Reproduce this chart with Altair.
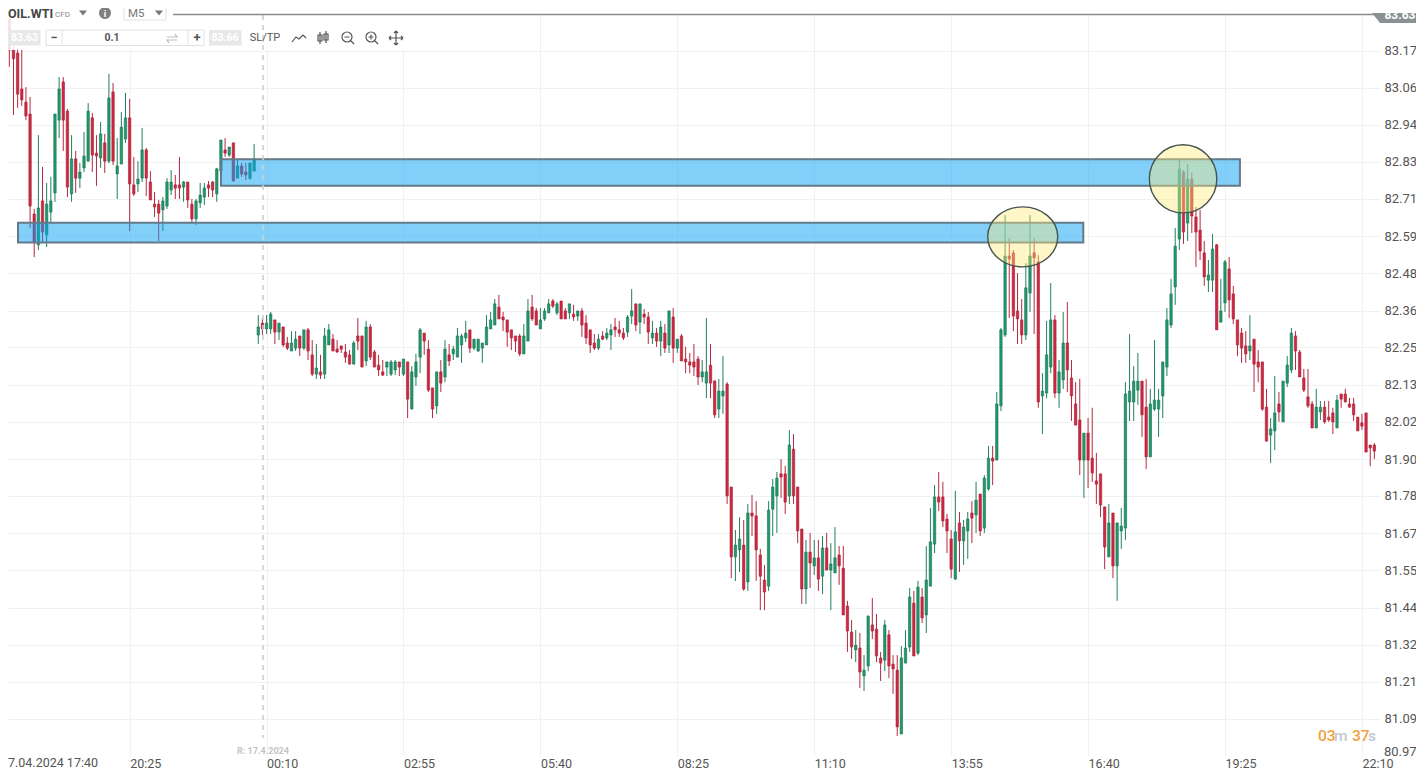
import altair as alt
import pandas as pd

# Candle values (prices), 10 candles a row
highs = [
83.281,83.203,83.178,83.172,83.056,83.025,82.676,82.906,82.807,82.757,
82.776,82.972,83.087,83.087,82.988,82.906,82.857,82.819,82.916,83.006,
82.975,82.906,82.947,82.910,83.097,83.069,82.897,82.978,83.038,83.019,
82.838,82.825,82.928,82.866,82.794,82.729,82.704,82.713,82.772,82.797,
82.782,82.838,82.763,82.760,82.707,82.707,82.757,82.757,82.763,82.763,
82.804,82.891,82.897,82.869,82.882,82.829,82.819,82.819,82.819,82.878,
82.345,82.336,82.345,82.355,82.330,82.320,82.308,82.277,82.295,82.295,
82.280,82.299,82.305,82.267,82.255,82.221,82.305,82.317,82.286,82.267,
82.249,82.255,82.236,82.264,82.336,82.280,82.327,82.317,82.236,82.221,
82.205,82.199,82.205,82.205,82.199,82.208,82.199,82.186,82.224,82.305,
82.289,82.267,82.118,82.168,82.205,82.267,82.255,82.249,82.305,82.286,
82.327,82.299,82.270,82.270,82.258,82.345,82.355,82.395,82.408,82.355,
82.330,82.299,82.280,82.286,82.317,82.395,82.408,82.367,82.367,82.367,
82.395,82.395,82.386,82.389,82.367,82.380,82.377,82.358,82.367,82.345,
82.299,82.286,82.286,82.295,82.305,82.317,82.336,82.327,82.305,82.345,
82.426,82.380,82.380,82.364,82.355,82.327,82.305,82.327,82.317,82.358,
82.367,82.270,82.286,82.246,82.227,82.255,82.217,82.205,82.336,82.255,
82.140,82.146,82.217,82.136,81.809,81.675,81.715,81.706,81.756,81.784,
81.765,81.616,81.566,81.765,81.834,81.856,81.896,81.875,81.987,81.974,
81.809,81.678,81.644,81.666,81.644,81.644,81.656,81.666,81.634,81.684,
81.625,81.625,81.454,81.394,81.363,81.354,81.285,81.407,81.463,81.413,
81.295,81.394,81.363,81.285,81.285,81.313,81.363,81.494,81.485,81.516,
81.494,81.625,81.744,81.815,81.856,81.825,81.725,81.675,81.797,81.731,
81.706,81.731,81.765,81.825,81.787,81.846,81.937,81.937,82.105,82.305,
82.657,82.585,82.548,82.476,82.395,82.507,82.657,82.585,82.532,82.164,
82.327,82.445,82.345,82.205,82.355,82.386,82.205,82.136,82.146,81.977,
82.024,82.056,81.915,81.850,81.747,81.756,81.728,81.697,81.744,82.136,
82.286,82.186,82.227,82.139,82.146,82.115,82.267,82.115,82.199,82.367,
82.458,82.617,82.829,82.797,82.816,82.788,82.682,82.673,82.576,82.517,
82.598,82.567,82.458,82.517,82.526,82.436,82.330,82.305,82.295,82.345,
82.270,82.236,82.199,82.115,82.024,82.155,82.105,82.139,82.217,82.305,
82.295,82.236,82.177,82.177,82.077,82.115,82.077,82.077,82.077,82.056,
82.096,82.099,82.115,82.087,82.087,82.027,82.037,82.040,81.940,81.946,
]
body_tops = [
83.265,83.172,83.162,83.050,83.009,82.972,82.660,82.679,82.701,82.691,
82.701,82.972,83.050,83.072,82.981,82.832,82.832,82.791,82.841,82.981,
82.960,82.850,82.910,82.882,83.022,83.041,82.810,82.931,82.960,82.960,
82.751,82.769,82.860,82.860,82.760,82.691,82.691,82.701,82.760,82.760,
82.751,82.751,82.760,82.760,82.691,82.701,82.719,82.741,82.751,82.760,
82.801,82.891,82.860,82.869,82.882,82.810,82.810,82.791,82.819,82.832,
82.308,82.320,82.320,82.348,82.330,82.320,82.308,82.258,82.258,82.270,
82.280,82.299,82.299,82.221,82.180,82.168,82.280,82.299,82.270,82.239,
82.249,82.230,82.221,82.258,82.280,82.280,82.308,82.308,82.230,82.189,
82.168,82.199,82.199,82.199,82.199,82.208,82.199,82.168,82.199,82.299,
82.289,82.239,82.118,82.168,82.168,82.239,82.221,82.239,82.280,82.280,
82.289,82.299,82.270,82.270,82.258,82.308,82.330,82.380,82.370,82.339,
82.330,82.299,82.280,82.280,82.280,82.358,82.370,82.358,82.330,82.358,
82.380,82.389,82.380,82.389,82.358,82.380,82.348,82.358,82.358,82.320,
82.299,82.258,82.270,82.280,82.289,82.299,82.308,82.299,82.289,82.339,
82.358,82.380,82.380,82.348,82.339,82.289,82.289,82.308,82.289,82.358,
82.339,82.270,82.280,82.208,82.199,82.199,82.208,82.168,82.168,82.189,
82.140,82.108,82.108,82.130,81.809,81.628,81.647,81.628,81.728,81.728,
81.719,81.597,81.519,81.737,81.809,81.837,81.850,81.850,81.940,81.927,
81.809,81.678,81.606,81.606,81.588,81.588,81.619,81.619,81.569,81.588,
81.597,81.556,81.438,81.357,81.316,81.307,81.238,81.407,81.379,81.366,
81.276,81.379,81.348,81.257,81.238,81.276,81.307,81.466,81.447,81.497,
81.466,81.519,81.638,81.778,81.778,81.778,81.709,81.647,81.669,81.697,
81.684,81.709,81.728,81.768,81.787,81.837,81.899,81.899,82.068,82.299,
82.529,82.529,82.539,82.358,82.330,82.430,82.529,82.539,82.511,82.108,
82.221,82.330,82.330,82.168,82.258,82.258,82.149,82.068,82.018,81.977,
81.977,81.899,81.828,81.850,81.747,81.697,81.728,81.697,81.687,82.099,
82.108,82.139,82.139,82.139,82.058,82.068,82.080,82.080,82.199,82.330,
82.411,82.560,82.800,82.791,82.769,82.769,82.651,82.610,82.539,82.470,
82.551,82.564,82.358,82.511,82.489,82.411,82.330,82.289,82.249,82.249,
82.270,82.199,82.199,82.058,81.990,82.040,82.068,82.139,82.189,82.289,
82.280,82.230,82.149,82.090,82.068,82.058,82.058,82.058,82.027,82.040,
82.080,82.099,82.099,82.068,82.068,82.027,82.009,82.040,81.940,81.940,
]
body_bottoms = [
83.172,83.144,83.034,83.016,82.966,82.685,82.573,82.564,82.604,82.595,
82.666,82.726,82.953,82.953,82.744,82.723,82.772,82.772,82.804,82.825,
82.844,82.841,82.835,82.825,82.825,82.825,82.785,82.816,82.894,82.754,
82.723,82.754,82.772,82.772,82.704,82.682,82.663,82.673,82.685,82.735,
82.741,82.741,82.744,82.704,82.645,82.645,82.695,82.713,82.741,82.735,
82.723,82.794,82.850,82.844,82.763,82.772,82.785,82.782,82.772,82.794,
82.283,82.302,82.302,82.302,82.292,82.292,82.252,82.242,82.233,82.242,
82.242,82.242,82.233,82.161,82.161,82.158,82.161,82.252,82.233,82.230,
82.239,82.214,82.192,82.192,82.264,82.183,82.202,82.214,82.183,82.174,
82.158,82.183,82.161,82.174,82.183,82.161,82.083,82.052,82.152,82.214,
82.264,82.111,82.052,82.062,82.133,82.152,82.202,82.224,82.214,82.252,
82.274,82.242,82.242,82.233,82.242,82.252,82.302,82.314,82.333,82.330,
82.292,82.274,82.264,82.224,82.224,82.264,82.333,82.314,82.302,82.333,
82.352,82.373,82.352,82.333,82.333,82.352,82.339,82.342,82.314,82.274,
82.252,82.242,82.242,82.270,82.274,82.283,82.299,82.289,82.274,82.292,
82.342,82.314,82.323,82.339,82.292,82.274,82.264,82.264,82.242,82.252,
82.242,82.242,82.202,82.199,82.189,82.183,82.152,82.152,82.133,82.133,
82.034,82.052,82.093,81.781,81.591,81.591,81.613,81.491,81.513,81.719,
81.613,81.531,81.482,81.500,81.740,81.781,81.840,81.762,81.781,81.781,
81.672,81.491,81.491,81.572,81.563,81.522,81.531,81.550,81.550,81.541,
81.563,81.410,81.360,81.310,81.301,81.232,81.220,81.251,81.360,81.282,
81.260,81.269,81.251,81.242,81.061,81.039,81.260,81.310,81.282,81.291,
81.401,81.410,81.500,81.631,81.762,81.703,81.672,81.553,81.522,81.641,
81.641,81.672,81.712,81.722,81.672,81.681,81.803,81.890,81.893,82.062,
82.283,82.520,82.342,82.333,82.283,82.283,82.414,82.523,82.074,82.093,
82.102,82.183,82.102,82.102,82.143,82.174,82.093,82.002,81.893,81.893,
81.893,81.853,81.818,81.753,81.622,81.591,81.563,81.563,81.672,81.681,
82.074,82.074,82.111,82.034,81.903,81.903,82.052,82.052,82.093,82.183,
82.314,82.433,82.582,82.604,82.632,82.654,82.604,82.545,82.464,82.454,
82.454,82.299,82.323,82.383,82.392,82.333,82.252,82.242,82.224,82.233,
82.192,82.183,82.052,81.952,81.971,81.984,82.043,82.012,82.133,82.174,
82.233,82.152,82.111,82.062,81.993,81.993,82.043,82.012,82.018,82.012,
81.993,82.083,82.074,82.058,82.034,81.984,81.999,81.918,81.931,81.921,
]
lows = [
83.119,82.969,82.991,82.997,82.953,82.617,82.526,82.548,82.573,82.557,
82.632,82.698,82.897,82.857,82.713,82.698,82.726,82.741,82.791,82.825,
82.791,82.748,82.804,82.788,82.819,82.813,82.707,82.816,82.882,82.607,
82.716,82.729,82.760,82.716,82.704,82.651,82.576,82.607,82.676,82.719,
82.707,82.707,82.698,82.679,82.632,82.626,82.679,82.688,82.713,82.713,
82.698,82.776,82.838,82.838,82.763,82.772,82.776,82.766,82.766,82.794,
82.255,82.283,82.286,82.286,82.255,82.267,82.246,82.236,82.233,82.233,
82.217,82.236,82.205,82.155,82.146,82.146,82.146,82.252,82.233,82.227,
82.227,82.196,82.192,82.192,82.236,82.183,82.186,82.205,82.183,82.155,
82.155,82.155,82.155,82.158,82.155,82.155,82.024,82.052,82.124,82.164,
82.221,82.105,82.024,82.037,82.105,82.136,82.186,82.205,82.214,82.196,
82.261,82.227,82.236,82.230,82.196,82.252,82.302,82.314,82.333,82.295,
82.246,82.236,82.230,82.217,82.224,82.264,82.327,82.314,82.302,82.327,
82.352,82.367,82.345,82.333,82.333,82.333,82.327,82.327,82.277,82.255,
82.227,82.236,82.236,82.267,82.267,82.236,82.277,82.277,82.267,82.277,
82.317,82.295,82.286,82.317,82.255,82.255,82.246,82.217,82.227,82.227,
82.196,82.227,82.202,82.164,82.164,82.155,82.127,82.136,82.086,82.086,
82.024,82.024,82.037,81.756,81.525,81.516,81.544,81.485,81.485,81.656,
81.516,81.425,81.425,81.485,81.656,81.666,81.775,81.725,81.756,81.756,
81.634,81.444,81.444,81.494,81.535,81.485,81.475,81.550,81.425,81.541,
81.504,81.410,81.295,81.273,81.263,81.182,81.173,81.235,81.335,81.263,
81.204,81.235,81.213,81.164,81.033,81.039,81.260,81.295,81.282,81.285,
81.385,81.354,81.500,81.603,81.734,81.684,81.603,81.525,81.519,81.544,
81.566,81.585,81.634,81.666,81.656,81.666,81.797,81.815,81.893,82.046,
82.277,82.336,82.295,82.255,82.255,82.267,82.355,82.286,82.056,81.974,
82.086,82.164,82.086,82.056,82.115,82.105,82.015,82.002,81.846,81.775,
81.806,81.825,81.756,81.715,81.553,81.591,81.525,81.454,81.616,81.644,
82.015,82.015,82.065,81.965,81.865,81.903,82.046,81.965,82.024,82.155,
82.305,82.377,82.548,82.567,82.576,82.601,82.495,82.517,82.436,82.417,
82.417,82.299,82.323,82.355,82.336,82.317,82.217,82.196,82.196,82.205,
82.105,82.136,82.046,81.952,81.884,81.924,82.012,82.012,82.121,82.164,
82.174,82.152,82.105,82.056,81.993,81.993,82.018,82.006,82.012,81.974,
81.993,82.056,82.074,82.056,82.015,81.984,81.987,81.918,81.874,81.896,
]
# u = rising (green), d = falling (red)
directions = "".join([
"dddddddudu","uuuddud" "uuu","ddududuuud","duudddduuu","ddudduuudd",
"uudududduu","uduududduu","dudduduudd","dddudduddd","duuududuuu",
"dddududuuu","uduuuuuudd","dddduuddu" "u","ududdududd","dduduudddu",
"ududdududu","duddddduud","duudduudud","ddduuuddud","ddudududuu",
"dddduduudd","duddduuudu","duuuddddud","uududuuduu","udddduuddu",
"uuduuddddu","ddddduduuu","uuudduuuuu","uuududdddu","uduudddddu",
"dddduuduuu","ddddduuddd","uddddddddd",
])

# Zones and circles drawn on the chart
zone_start = [51.0, 2.09]
zone_end = [296.6, 258.85]
zone_top = [82.831, 82.633]
zone_bottom = [82.748, 82.571]
circle_index = [244.25, 282.9]
circle_price = [82.589, 82.770]

# Axis contents
time_ticks = [29, 62, 95, 128, 161, 194, 227, 260, 293, 326]
time_labels = ["20:25", "00:10", "02:55", "05:40", "08:25", "11:10", "13:55", "16:40", "19:25", "22:10"]
price_ticks = [83.170, 83.054, 82.938, 82.823, 82.707, 82.591, 82.475, 82.359, 82.244, 82.128,
               82.012, 81.896, 81.781, 81.665, 81.549, 81.433, 81.317, 81.202, 81.086, 80.970]

assert len(highs) == len(lows) == len(body_tops) == len(body_bottoms) == len(directions) == 330

df = pd.DataFrame({
    "i": list(range(len(highs))), "high": highs, "low": lows,
    "top": body_tops, "bottom": body_bottoms, "dir": list(directions),
})

FONT = "Roboto"
xs = alt.Scale(domain=[-0.3206, 330.36], nice=False, zero=False, padding=0)
ys = alt.Scale(domain=[80.9703, 83.2807], nice=False, zero=False, padding=0)
label_map = "{" + ",".join(f"'{t}':'{l}'" for t, l in zip(time_ticks, time_labels)) + "}"

x_axis = alt.Axis(values=time_ticks, labelExpr=f"{label_map}['' + datum.value]", title=None,
                  grid=True, gridColor="#f0f1f2", gridWidth=1, domain=False, ticks=False,
                  labelAlign="left", labelPadding=1, labelFont=FONT, labelFontSize=12.5,
                  labelColor="#555555", labelOverlap=False, labelBound=False, labelFlush=False)
y_axis = alt.Axis(values=price_ticks, orient="right",
                  labelExpr="datum.value < 81 ? '' : format(datum.value + 0.0035, '.2f')", title=None,
                  grid=True, gridColor="#f0f1f2", gridWidth=1, domain=False, ticks=False,
                  labelPadding=4, labelFont=FONT, labelFontSize=13, labelColor="#555555",
                  labelOverlap=False, labelBound=False, labelFlush=False)

wick_c = alt.Scale(domain=["u", "d"], range=["#1f7f5e", "#b5293f"])
fill_c = alt.Scale(domain=["u", "d"], range=["#1f9a6c", "#d0283f"])
edge_c = alt.Scale(domain=["u", "d"], range=["#1b6e52", "#a51f35"])

wicks = alt.Chart(df).mark_rule(strokeWidth=1).encode(
    x=alt.X("i:Q", scale=xs, axis=x_axis),
    y=alt.Y("low:Q", scale=ys, axis=y_axis),
    y2="high:Q",
    color=alt.Color("dir:N", scale=wick_c, legend=None),
)
bodies = alt.Chart(df).mark_bar(size=2.4, strokeWidth=0.6).encode(
    x=alt.X("i:Q", scale=xs, axis=x_axis),
    y=alt.Y("bottom:Q", scale=ys, axis=y_axis),
    y2="top:Q",
    fill=alt.Fill("dir:N", scale=fill_c, legend=None),
    stroke=alt.Stroke("dir:N", scale=edge_c, legend=None),
)

zones_df = pd.DataFrame({"x": zone_start, "x2": zone_end, "y": zone_top, "y2": zone_bottom})
zones = alt.Chart(zones_df).mark_rect(fill="#05a1f5", fillOpacity=0.5, stroke="#647a88", strokeWidth=2).encode(
    x=alt.X("x:Q", scale=xs, axis=x_axis), x2="x2:Q",
    y=alt.Y("y:Q", scale=ys, axis=y_axis), y2="y2:Q",
)


def ellipse(i, shape, size):
    d = pd.DataFrame({"i": [circle_index[i]], "p": [circle_price[i]]})
    return alt.Chart(d).mark_point(shape=shape, size=size, filled=True, fill="#ffeb75", fillOpacity=0.4,
                                   stroke="#47534f", strokeOpacity=1, strokeWidth=1.4, opacity=1).encode(
        x=alt.X("i:Q", scale=xs, axis=x_axis), y=alt.Y("p:Q", scale=ys, axis=y_axis))


ell1 = ellipse(0, "M-1,0A1,0.857,0,1,1,1,0A1,0.857,0,1,1,-1,0Z", 4900)
ell2 = ellipse(1, "M-1,0A1,1.01,0,1,1,1,0A1,1.01,0,1,1,-1,0Z", 4556)

# Page-pixel helpers for the platform's toolbar and decorations
one = pd.DataFrame({"a": [0]})
def px(x): return x - 8
def py(y): return y - 15


def txt(s, x, y, size=12, color="#555555", align="left", weight="normal"):
    return alt.Chart(one).mark_text(text=s, font=FONT, fontSize=size, color=color, align=align,
                                    baseline="middle", fontWeight=weight).encode(
        x=alt.value(px(x)), y=alt.value(py(y)))


def box(x1, x2, y1, y2, fill="#ffffff", stroke=None, opacity=1):
    kw = {"fill": fill, "opacity": opacity}
    if stroke:
        kw.update(stroke=stroke, strokeWidth=1)
    return alt.Chart(one).mark_rect(**kw).encode(
        x=alt.value(px(x1)), x2=alt.value(px(x2)), y=alt.value(py(y1)), y2=alt.value(py(y2)))


def line(x1, x2, y1, y2, color="#dddddd", width=1, dash=None):
    kw = {"color": color, "strokeWidth": width}
    if dash:
        kw["strokeDash"] = dash
    return alt.Chart(one).mark_rule(**kw).encode(
        x=alt.value(px(x1)), x2=alt.value(px(x2)), y=alt.value(py(y1)), y2=alt.value(py(y2)))


def icon(path, x, y, color="#555555", filled=False, width=1.2):
    kw = {"filled": True, "fill": color} if filled else {"filled": False, "stroke": color, "strokeWidth": width}
    return alt.Chart(one).mark_point(shape=path, size=4, opacity=1, **kw).encode(
        x=alt.value(px(x)), y=alt.value(py(y)))


TRI = "M-4,-2.5L4,-2.5L0,2.5Z"
MAG = "M-5,0A5,5,0,1,1,5,0A5,5,0,1,1,-5,0ZM3.5,3.5L7,7M-2.5,0H2.5"
ui = [
    box(8, 412, 8, 50, opacity=0.86),
    line(263, 263, 15, 738, color="#cfcfcf", width=1.6, dash=[5, 5]),
    txt("R: 17.4.2024", 263, 750.5, size=9, color="#c4c4c4", align="center", weight="bold"),
    line(173, 1375, 14.5, 14.5, color="#888c8c", width=1.4),
    icon("M-26,-5H26V5H-18Z", 1398, 18, color="#8a9192", filled=True),
    txt("83.63", 1400, 14.5, size=12, color="#ffffff", align="center", weight="bold"),
    txt("80.97", 1384, 751.5, size=13),
    txt("7.04.2024 17:40", 8, 762.5, size=12.5),
    txt("OIL.WTI", 8, 13.5, size=12.5, color="#444444", weight="bold"),
    txt("CFD", 55, 14.5, size=8, color="#888888"),
    icon(TRI, 83, 13, color="#777777", filled=True),
    icon("M-6,0A6,6,0,1,1,6,0A6,6,0,1,1,-6,0Z", 105, 13, color="#808080", filled=True),
    txt("i", 105, 13.5, size=9.5, color="#ffffff", align="center", weight="bold"),
    box(124, 166, 6, 20, stroke="#e2e2e2"),
    txt("M5", 128, 13.5, size=11.5, color="#777777"),
    icon(TRI, 159, 13, color="#777777", filled=True),
    box(8, 40.5, 30, 45.5, fill="#e8e8e8"),
    txt("83.63", 24.5, 38, size=10.5, color="#ffffff", align="center", weight="bold"),
    box(46, 204, 30, 45.5, stroke="#e2e2e2"),
    line(62, 62, 30, 45.5, color="#e2e2e2"),
    line(188, 188, 30, 45.5, color="#e2e2e2"),
    txt("\u2212", 54, 37.5, size=13, color="#555555", align="center", weight="bold"),
    txt("0.1", 112, 38, size=10.5, color="#555555", align="center", weight="bold"),
    icon("M-5,-1H5L3,-4M5,2H-5L-3,5", 172, 38, color="#bbbbbb"),
    txt("+", 197, 37.5, size=13, color="#555555", align="center", weight="bold"),
    box(209, 241.5, 30, 45.5, fill="#e8e8e8"),
    txt("83.66", 225, 38, size=10.5, color="#ffffff", align="center", weight="bold"),
    txt("SL/TP", 265, 38, size=11, color="#555555", align="center"),
    icon("M-7,4L-3,-1L0,1L4,-3L7,0", 299, 38),
    icon("M-3,-6V6M-5,-3H-1V3H-5ZM3,-7V5M1,-4H5V2H1Z", 323, 38),
    icon(MAG, 347, 37),
    icon(MAG + "M0,-2.5V2.5", 371, 37),
    icon("M-7,0H7M0,-7V7M-7,0L-5,-2M-7,0L-5,2M7,0L5,-2M7,0L5,2M0,-7L-2,-5M0,-7L2,-5M0,7L-2,5M0,7L2,5", 396, 38),
    txt("03", 1318, 736, size=15.5, color="#f0a23c", weight=500),
    txt("m", 1334, 736, size=15.5, color="#c4c8cc", weight=500),
    txt("37", 1352, 736, size=15.5, color="#f0a23c", weight=500),
    txt("s", 1368, 736, size=15.5, color="#c4c8cc", weight=500),
]

chart = alt.layer(wicks, bodies, zones, ell1, ell2, *ui).properties(
    width=1372, height=741,
    padding={"left": 0, "top": 7, "right": 36, "bottom": 13},
    autosize=alt.AutoSizeParams(type="none"),
    background="#ffffff",
).configure_view(strokeWidth=0)

chart.save("out.html", embed_options={"renderer": "svg", "actions": False})
